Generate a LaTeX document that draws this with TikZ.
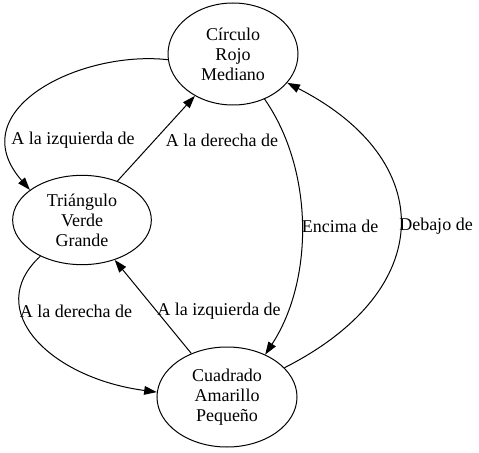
\documentclass[tikz,border=0pt]{standalone}
\usepackage{fontspec}
\setmainfont{Liberation Serif}
\usetikzlibrary{arrows.meta, shapes.geometric}

\begin{document}
\begin{tikzpicture}
            [x=0.75pt, y=-0.75pt, ->, >={Triangle[length=9.5pt,width=6.5pt]}, line width=0.75pt,
            figura/.style={ellipse, draw=black, align=center, inner sep=0pt, font=\fontsize{13.5}{15}\selectfont},
            etiqueta/.style={inner sep=0pt, font=\fontsize{13.5}{15}\selectfont}]

            \useasboundingbox (0,0) rectangle (479,453);

            \node[figura, minimum width=97.5pt, minimum height=76.5pt] (circulo) at (233,54) {Círculo\\Rojo\\Mediano};
            \node[figura, minimum width=104pt, minimum height=67pt] (triangulo) at (82,220) {Triángulo\\Verde\\Grande};
            \node[figura, minimum width=105pt, minimum height=75pt] (cuadrado) at (227,397) {Cuadrado\\Amarillo\\Pequeño};

            \node[etiqueta] (izq1) at (73,140) {A la izquierda de};
            \node[etiqueta] (der1) at (222,140) {A la derecha de};
            \node[etiqueta] (encima) at (340,226) {Encima de};
            \node[etiqueta] (debajo) at (436,226) {Debajo de};
            \node[etiqueta] (der2) at (76,311) {A la derecha de};
            \node[etiqueta] (izq2) at (219,311) {A la izquierda de};

            \draw (circulo.185) .. controls (80,50) and (-40,110) .. (triangulo.150);
            \draw (triangulo) -- (circulo);
            \draw (circulo.-55) .. controls (314,170) and (314,280) .. (cuadrado.48);
            \draw (cuadrado.27) .. controls (438,290) and (438,160) .. (circulo.-28);
            \draw (triangulo.221) .. controls (-18,310) and (50,378) .. (cuadrado.176);
            \draw (cuadrado) -- (triangulo);

          \end{tikzpicture}
\end{document}
